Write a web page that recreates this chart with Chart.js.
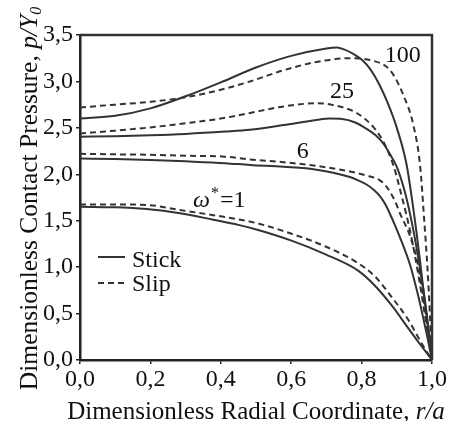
<!DOCTYPE html>
<html>
<head>
<meta charset="utf-8">
<script src="https://cdn.jsdelivr.net/npm/chart.js@4.4.1/dist/chart.umd.min.js"></script>
<style>
  html, body { margin: 0; padding: 0; background: #fff; }
  canvas { display: block; }
</style>
</head>
<body>
<canvas id="c" width="450" height="421"></canvas>
<script>
// ---- Data ----
const stickX100 = [0, 0.1, 0.2, 0.3, 0.4, 0.5, 0.6, 0.7, 0.73, 0.75, 0.775, 0.8, 0.825, 0.85, 0.875, 0.9, 0.928, 0.948, 0.965, 0.982, 1];
const stickP100 = [2.6, 2.63, 2.71, 2.84, 2.99, 3.15, 3.275, 3.355, 3.365, 3.345, 3.3, 3.235, 3.13, 2.97, 2.76, 2.5, 2.1, 1.6, 1.1, 0.55, 0];
const slipX100  = [0, 0.1, 0.2, 0.3, 0.4, 0.483, 0.578, 0.672, 0.767, 0.824, 0.881, 0.919, 0.947, 0.966, 0.978, 0.987, 0.994, 1];
const slipP100  = [2.72, 2.75, 2.78, 2.83, 2.91, 3.0, 3.12, 3.21, 3.25, 3.23, 3.12, 2.85, 2.53, 2.1, 1.5, 1.0, 0.5, 0];

const stickX25 = [0, 0.1, 0.2, 0.3, 0.412, 0.483, 0.578, 0.672, 0.71, 0.745, 0.78, 0.814, 0.84, 0.862, 0.88, 0.9, 0.925, 0.948, 0.966, 0.985, 1];
const stickP25 = [2.405, 2.41, 2.42, 2.435, 2.46, 2.48, 2.53, 2.585, 2.6, 2.595, 2.56, 2.49, 2.42, 2.33, 2.22, 2.08, 1.78, 1.38, 0.98, 0.5, 0];
const slipX25  = [0, 0.1, 0.2, 0.3, 0.4, 0.483, 0.578, 0.672, 0.72, 0.786, 0.833, 0.862, 0.89, 0.915, 0.94, 0.962, 0.98, 1];
const slipP25  = [2.44, 2.47, 2.505, 2.55, 2.6, 2.66, 2.73, 2.765, 2.745, 2.66, 2.51, 2.35, 2.1, 1.75, 1.35, 0.9, 0.48, 0];

const stickX6 = [0, 0.1, 0.2, 0.3, 0.412, 0.483, 0.578, 0.672, 0.767, 0.79, 0.814, 0.835, 0.852, 0.867, 0.881, 0.895, 0.909, 0.938, 0.955, 0.97, 0.985, 1];
const stickP6 = [2.17, 2.165, 2.155, 2.14, 2.12, 2.1, 2.08, 2.05, 1.97, 1.935, 1.89, 1.83, 1.765, 1.68, 1.57, 1.45, 1.32, 1.02, 0.78, 0.54, 0.28, 0];
const slipX6  = [0, 0.1, 0.2, 0.3, 0.412, 0.483, 0.578, 0.672, 0.767, 0.81, 0.852, 0.868, 0.881, 0.895, 0.909, 0.938, 0.957, 0.97, 0.983, 1];
const slipP6  = [2.22, 2.215, 2.21, 2.2, 2.19, 2.16, 2.13, 2.09, 2.03, 1.99, 1.935, 1.88, 1.81, 1.71, 1.58, 1.33, 1.08, 0.8, 0.48, 0];

const stickX1 = [0, 0.1, 0.189, 0.284, 0.379, 0.45, 0.511, 0.601, 0.696, 0.791, 0.838, 0.885, 0.933, 0.96, 0.98, 1];
const stickP1 = [1.65, 1.645, 1.625, 1.58, 1.51, 1.455, 1.395, 1.285, 1.14, 0.96, 0.8, 0.59, 0.34, 0.2, 0.1, 0];
const slipX1  = [0, 0.1, 0.189, 0.284, 0.379, 0.45, 0.511, 0.601, 0.696, 0.791, 0.838, 0.885, 0.933, 0.96, 0.98, 1];
const slipP1  = [1.675, 1.675, 1.67, 1.615, 1.56, 1.515, 1.465, 1.36, 1.225, 1.04, 0.9, 0.68, 0.43, 0.25, 0.12, 0];

const xTicks = [0, 0.2, 0.4, 0.6, 0.8, 1.0];
const yTicks = [0, 0.5, 1.0, 1.5, 2.0, 2.5, 3.0, 3.5];

// curve labels: [text, r, p]
const curveLabels = [["100", 0.866, 3.21], ["25", 0.71, 2.82], ["6", 0.616, 2.175]];
const omegaLabel = { r: 0.321, p: 1.648, value: "1" };

const legendItems = ["Stick", "Slip"];
const xTitle = ["Dimensionless Radial Coordinate, ", "r/a"];
const yTitle = ["Dimensionless Contact Pressure, ", "p/Y", "0"];

// ---- Build ----
const FONT = "'Liberation Serif', 'Times New Roman', serif";
const LINE = '#333333';
function pts(xs, ps) { return xs.map((x, i) => ({ x: x, y: ps[i] })); }
function ds(xs, ps, dashed) {
  return {
    data: pts(xs, ps),
    borderColor: LINE,
    borderWidth: 2,
    borderDash: dashed ? [6, 4] : [],
    pointRadius: 0,
    fill: false,
    cubicInterpolationMode: 'monotone'
  };
}

const annot = {
  id: 'annot',
  afterDraw(chart) {
    const ctx = chart.ctx;
    const { left, right, top, bottom } = chart.chartArea;
    const sx = chart.scales.x, sy = chart.scales.y;
    ctx.save();
    // frame top/right
    ctx.strokeStyle = '#333';
    ctx.lineWidth = 2.5;
    ctx.setLineDash([]);
    ctx.beginPath();
    ctx.moveTo(left, top);
    ctx.lineTo(right, top);
    ctx.lineTo(right, bottom);
    ctx.stroke();

    ctx.fillStyle = '#111';
    ctx.textBaseline = 'alphabetic';
    ctx.textAlign = 'left';

    // curve labels
    ctx.font = '24px ' + FONT;
    curveLabels.forEach(([t, r, p]) => {
      ctx.fillText(t, sx.getPixelForValue(r), sy.getPixelForValue(p));
    });
    // omega* = 1
    let ox = sx.getPixelForValue(omegaLabel.r), oy = sy.getPixelForValue(omegaLabel.p);
    ctx.font = 'italic 24px ' + FONT;
    ctx.fillText('\u03C9', ox, oy);
    ox += ctx.measureText('\u03C9').width + 1;
    ctx.font = '16px ' + FONT;
    ctx.fillText('*', ox, oy - 9);
    ox += ctx.measureText('*').width + 1;
    ctx.font = '24px ' + FONT;
    ctx.fillText('=' + omegaLabel.value, ox, oy);

    // legend
    const lx0 = left + 18, lx1 = left + 45;
    ctx.strokeStyle = LINE;
    ctx.lineWidth = 2;
    ctx.beginPath();
    ctx.moveTo(lx0, 257); ctx.lineTo(lx1, 257); ctx.stroke();
    ctx.setLineDash([6, 4]);
    ctx.beginPath();
    ctx.moveTo(lx0, 283); ctx.lineTo(lx1 + 2, 283); ctx.stroke();
    ctx.setLineDash([]);
    ctx.font = '24px ' + FONT;
    ctx.fillText(legendItems[0], left + 52, 267);
    ctx.fillText(legendItems[1], left + 52, 291);

    // x title
    ctx.font = '25px ' + FONT;
    const w1 = ctx.measureText(xTitle[0]).width;
    ctx.font = 'italic 25px ' + FONT;
    const w2 = ctx.measureText(xTitle[1]).width;
    let tx = (left + right) / 2 - (w1 + w2) / 2;
    ctx.font = '25px ' + FONT;
    ctx.fillText(xTitle[0], tx, 419);
    ctx.font = 'italic 25px ' + FONT;
    ctx.fillText(xTitle[1], tx + w1, 419);

    // y title (rotated)
    ctx.font = '25.5px ' + FONT;
    const a1 = ctx.measureText(yTitle[0]).width;
    ctx.font = 'italic 25.5px ' + FONT;
    const a2 = ctx.measureText(yTitle[1]).width;
    ctx.font = 'italic 16px ' + FONT;
    const a3 = ctx.measureText(yTitle[2]).width;
    const total = a1 + a2 + a3;
    ctx.translate(37, (top + bottom) / 2 + 1);
    ctx.rotate(-Math.PI / 2);
    let ux = -total / 2;
    ctx.font = '25.5px ' + FONT;
    ctx.fillText(yTitle[0], ux, 0); ux += a1;
    ctx.font = 'italic 25.5px ' + FONT;
    ctx.fillText(yTitle[1], ux, 0); ux += a2;
    ctx.font = 'italic 16px ' + FONT;
    ctx.fillText(yTitle[2], ux, 4);
    ctx.restore();
  }
};

const fmt = v => Number(v).toFixed(1).replace('.', ',');

new Chart(document.getElementById('c'), {
  type: 'line',
  data: {
    datasets: [
      ds(stickX100, stickP100, false), ds(slipX100, slipP100, true),
      ds(stickX25, stickP25, false), ds(slipX25, slipP25, true),
      ds(stickX6, stickP6, false), ds(slipX6, slipP6, true),
      ds(stickX1, stickP1, false), ds(slipX1, slipP1, true)
    ]
  },
  options: {
    responsive: false,
    animation: false,
    devicePixelRatio: 1,
    layout: { padding: { top: 35, right: 18, left: 0, bottom: 0 } },
    plugins: { legend: { display: false }, tooltip: { enabled: false } },
    scales: {
      x: {
        type: 'linear', min: 0, max: 1,
        afterBuildTicks: s => { s.ticks = xTicks.map(v => ({ value: v })); },
        ticks: { callback: fmt, font: { family: FONT, size: 24 }, color: '#111', padding: 1, maxRotation: 0, autoSkip: false },
        grid: { display: true, drawOnChartArea: false, tickLength: 4, color: '#222', lineWidth: 1.5 },
        border: { display: true, color: '#222', width: 2.5 },
        afterFit: s => { s.height = 61; }
      },
      y: {
        type: 'linear', min: 0, max: 3.5,
        afterBuildTicks: s => { s.ticks = yTicks.map(v => ({ value: v })); },
        ticks: { callback: fmt, font: { family: FONT, size: 24 }, color: '#111', padding: 3, autoSkip: false },
        grid: { display: true, drawOnChartArea: false, tickLength: 4, color: '#222', lineWidth: 1.5 },
        border: { display: true, color: '#222', width: 2.5 },
        afterFit: s => { s.width = 80; }
      }
    }
  },
  plugins: [annot]
});
</script>
</body>
</html>
